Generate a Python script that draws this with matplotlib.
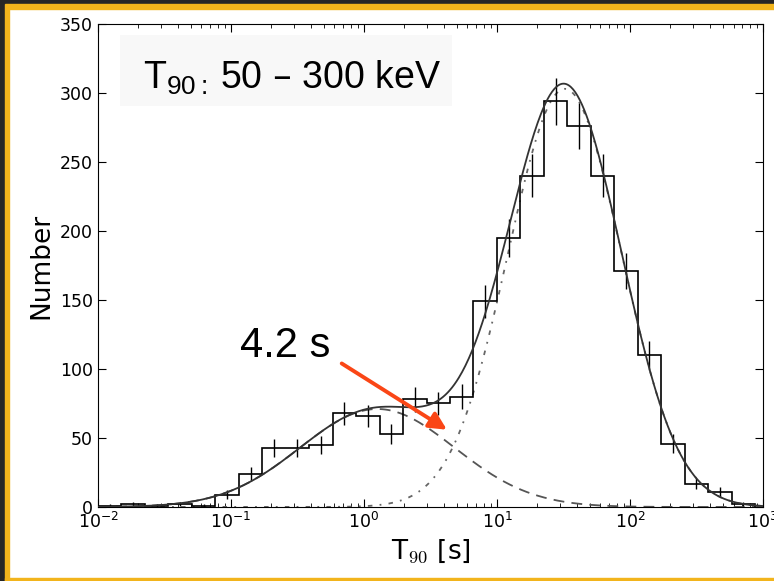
"""T90 distribution with two-lognormal fit, 50-300 keV."""

import numpy as np
import matplotlib

matplotlib.use("Agg")
import matplotlib.pyplot as plt
from matplotlib.patches import Rectangle

# histogram counts per log bin (28 bins from 10^-2 s)
counts = [1, 2, 1, 2, 1, 9, 24, 43, 43, 45, 68, 66, 53, 78,
          75, 80, 149, 195, 240, 294, 276, 240, 171, 110, 46, 17, 11, 2]
log_edge_lo = -2.0
log_edge_hi = 2.94

# fitted lognormal components: amplitude, log10 mean, log10 sigma
short_amp, short_mu, short_sigma = 71.0, 0.10, 0.58
long_amp, long_mu, long_sigma = 303.0, 1.51, 0.427

y_ticks = [0, 50, 100, 150, 200, 250, 300, 350]
box_label = r"T$_{\mathdefault{90:}}\,$50 – 300 keV"
arrow_label = "4.2 s"
crossing_s = 4.2


def lognormal(log_t, amp, mu, sigma):
    return amp * np.exp(-((log_t - mu) ** 2) / (2.0 * sigma ** 2))


def main() -> None:
    plt.rcParams["font.family"] = "DejaVu Sans"
    fig = plt.figure(figsize=(7.74, 5.81), dpi=100)

    # slide frame: dark strip and yellow rule
    dark, yellow = "#262626", "#F2B41C"
    fig.patches.append(Rectangle((0.0, 0.993), 1.0, 0.007, transform=fig.transFigure, color=dark))
    fig.patches.append(Rectangle((0.0, 0.0), 0.007, 1.0, transform=fig.transFigure, color=dark))
    fig.patches.append(Rectangle((0.007, 0.985), 0.993, 0.008, transform=fig.transFigure, color=yellow))
    fig.patches.append(Rectangle((0.007, 0.0), 0.005, 0.985, transform=fig.transFigure, color=yellow))
    fig.patches.append(Rectangle((0.007, 0.0), 0.993, 0.005, transform=fig.transFigure, color=yellow))

    ax = fig.add_axes([0.1266, 0.1274, 0.8592, 0.8313])

    edges = np.logspace(log_edge_lo, log_edge_hi, len(counts) + 1)
    centers = np.sqrt(edges[:-1] * edges[1:])
    n = np.asarray(counts, dtype=float)

    ax.add_patch(Rectangle((0.033, 0.83), 0.50, 0.147, transform=ax.transAxes,
                           facecolor="#f8f8f8", edgecolor="none", zorder=0))

    ax.stairs(n, edges, color="black", linewidth=1.2, zorder=3)
    ax.errorbar(centers, n, yerr=np.sqrt(n), fmt="none", ecolor="black",
                elinewidth=1.0, capsize=0, zorder=3)

    t = np.logspace(-2, 3, 600)
    lt = np.log10(t)
    short = lognormal(lt, short_amp, short_mu, short_sigma)
    long_ = lognormal(lt, long_amp, long_mu, long_sigma)
    ax.plot(t, short, color="#555555", linewidth=1.3, dashes=(6, 4), zorder=2)
    ax.plot(t, long_, color="#666666", linewidth=1.3, dashes=(2.5, 4, 1, 4), zorder=2)
    ax.plot(t, short + long_, color="#333333", linewidth=1.3, zorder=4)

    ax.set_xscale("log")
    ax.set_xlim(1e-2, 1e3)
    ax.set_ylim(0, 350)
    ax.set_yticks(y_ticks)
    ax.tick_params(which="both", direction="in", top=True, right=True, labelsize=12.5)
    ax.tick_params(which="major", length=5.5, width=0.8)
    ax.tick_params(which="minor", length=3, width=0.6)
    ax.set_xlabel(r"T$_{90}$ [s]", fontsize=19, math_fontfamily="cm")
    ax.set_ylabel("Number", fontsize=19)

    ax.text(0.068, 0.867, box_label, transform=ax.transAxes, fontsize=27,
            family="Liberation Sans", zorder=5)
    ax.text(0.117, 109, arrow_label, fontsize=30, family="Liberation Sans", zorder=5)
    ax.annotate("", xy=(crossing_s, 56), xytext=(0.68, 104),
                arrowprops=dict(arrowstyle="-|>", color="#FA4616", lw=2.8,
                                mutation_scale=26, shrinkA=0, shrinkB=0),
                zorder=6)

    fig.savefig("out.png", dpi=100)
    plt.close(fig)


if __name__ == "__main__":
    main()
